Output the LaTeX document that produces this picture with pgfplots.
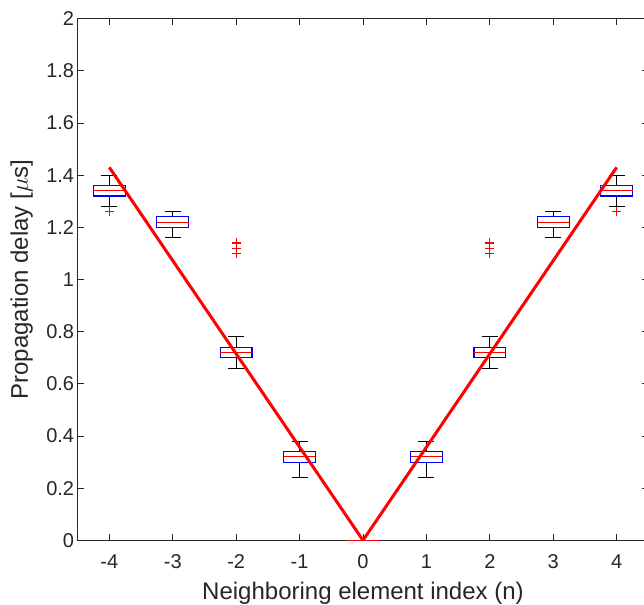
\documentclass[border=0pt]{standalone}
\usepackage{pgfplots}
\pgfplotsset{compat=1.18}
\usepgfplotslibrary{statistics}
\usepackage{fontspec}
\setmainfont{Liberation Sans}
\definecolor{axisgray}{RGB}{38,38,38}
\pgfplotsset{
  mybox/.style={black, line width=0.9bp, mark=+, mark size=4.5bp, mark options={red, solid, line width=1.1bp},
    boxplot/draw direction=y},
}
\begin{document}
\begin{tikzpicture}
\useasboundingbox (-77.6bp,-64.7bp) rectangle (566.4bp,540.3bp);
\begin{axis}[
  at={(0,0)}, anchor=south west,
  scale only axis, width=570.8bp, height=521.6bp,
  xmin=-4.5, xmax=4.5, ymin=0, ymax=2,
  xtick={-4,-3,-2,-1,0,1,2,3,4},
  ytick={0,0.2,0.4,0.6,0.8,1,1.2,1.4,1.6,1.8,2},
  tick align=inside, tick pos=both,
  major tick length=6bp,
  axis line style={draw=axisgray, line width=0.8bp},
  tick style={draw=axisgray, line width=0.8bp},
  /pgf/number format/assume math mode=true,
  ticklabel style={text=axisgray, font=\fontsize{20bp}{23bp}\selectfont},
  yticklabel style={xshift=0bp},
  xticklabel style={yshift=-11bp},
  label style={text=axisgray, font=\fontsize{24bp}{28bp}\selectfont},
  xlabel={Neighboring element index (n)},
  ylabel={Propagation delay [$\mu$s]},
  xlabel style={at={(axis description cs:0.5,0)}, anchor=center, yshift=-53bp},
  ylabel style={at={(axis description cs:0,0.5)}, anchor=center, rotate=0, yshift=56bp},
  boxplot/draw direction=y,
  boxplot/box extend=0.5,
  boxplot/whisker extend=0.25,
  boxplot/every box/.style={draw=blue, line width=1.1bp},
  boxplot/every median/.style={draw=red},
]
% n = -4
\addplot[mybox,
  boxplot prepared={draw direction=y, draw position=-4, lower whisker=1.28, lower quartile=1.32, median=1.34, upper quartile=1.36, upper whisker=1.40}]
  table[row sep=\\, y index=0, header=false]{1.26\\};
% n = -3
\addplot[mybox,
  boxplot prepared={draw direction=y, draw position=-3, lower whisker=1.16, lower quartile=1.20, median=1.22, upper quartile=1.24, upper whisker=1.26}]
  coordinates {};
% n = -2
\addplot[mybox,
  boxplot prepared={draw direction=y, draw position=-2, lower whisker=0.66, lower quartile=0.70, median=0.72, upper quartile=0.74, upper whisker=0.78}]
  table[row sep=\\, y index=0, header=false]{1.10\\1.12\\1.14\\};
% n = -1
\addplot[mybox,
  boxplot prepared={draw direction=y, draw position=-1, lower whisker=0.24, lower quartile=0.30, median=0.32, upper quartile=0.34, upper whisker=0.38}]
  coordinates {};
% n = 0
\addplot[mybox,
  boxplot prepared={draw direction=y, draw position=0, lower whisker=0, lower quartile=0, median=0, upper quartile=0, upper whisker=0}]
  coordinates {};
% n = 1
\addplot[mybox,
  boxplot prepared={draw direction=y, draw position=1, lower whisker=0.24, lower quartile=0.30, median=0.32, upper quartile=0.34, upper whisker=0.38}]
  coordinates {};
% n = 2
\addplot[mybox,
  boxplot prepared={draw direction=y, draw position=2, lower whisker=0.66, lower quartile=0.70, median=0.72, upper quartile=0.74, upper whisker=0.78}]
  table[row sep=\\, y index=0, header=false]{1.10\\1.12\\1.14\\};
% n = 3
\addplot[mybox,
  boxplot prepared={draw direction=y, draw position=3, lower whisker=1.16, lower quartile=1.20, median=1.22, upper quartile=1.24, upper whisker=1.26}]
  coordinates {};
% n = 4
\addplot[mybox,
  boxplot prepared={draw direction=y, draw position=4, lower whisker=1.28, lower quartile=1.32, median=1.34, upper quartile=1.36, upper whisker=1.40}]
  table[row sep=\\, y index=0, header=false]{1.26\\};
% theoretical V line
\addplot[red, line width=3bp, mark=none] coordinates {(-4,1.43) (0,0) (4,1.43)};
\end{axis}
\end{tikzpicture}
\end{document}
